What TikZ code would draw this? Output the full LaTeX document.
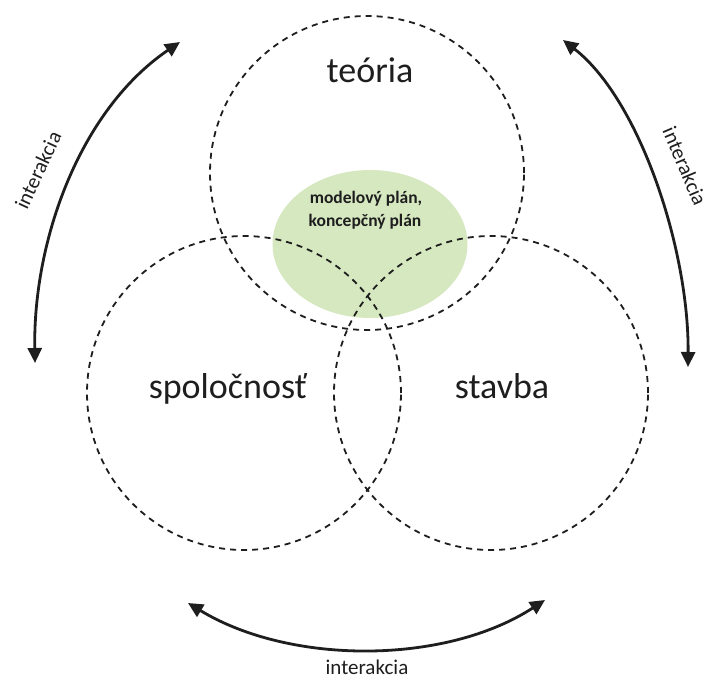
\documentclass[tikz,border=0pt]{standalone}
\usepackage{fontspec}
\setmainfont{Carlito}
\usetikzlibrary{arrows.meta,shapes.geometric}
\definecolor{leafgreen}{RGB}{214,232,192}
\definecolor{ink}{RGB}{30,30,30}
\tikzset{
  ring/.style={circle, draw=ink, line width=1.8pt, dash pattern=on 6pt off 5pt, minimum size=314pt, inner sep=0pt},
  bigword/.style={font=\fontsize{36}{40}\selectfont, text=ink, anchor=base, inner sep=0pt},
  smallword/.style={font=\fontsize{21}{24}\selectfont, text=ink, inner sep=0pt},
  greenword/.style={font=\bfseries\fontsize{17.5}{20}\selectfont, text=ink, anchor=base, inner sep=0pt},
  swing/.style={line width=2.8pt, draw=ink, {Triangle[length=15pt,width=14pt]}-{Triangle[length=15pt,width=14pt]}}
}
\begin{document}
\begin{tikzpicture}[x=1pt,y=-1pt]
\useasboundingbox (0,0) rectangle (709,682);
% green ellipse
\node[ellipse, fill=leafgreen, minimum width=195pt, minimum height=148pt, inner sep=0pt] (core) at (370,244) {};
% circles
\node[ring] (top) at (367,173) {};
\node[ring] (left) at (244,393) {};
\node[ring] (right) at (491,393) {};
% labels
\node[bigword] (teoria) at (370,83) {teória};
\node[bigword] (spol) at (228,398) {spoločnosť};
\node[bigword] (stavba) at (502,398) {stavba};
\node[greenword] (l1) at (366,203) {modelový plán,};
\node[greenword] (l2) at (365,226) {koncepčný plán};
% arrows
\coordinate (la) at (35,363);
\coordinate (lb) at (180,42);
\coordinate (ra) at (563,40);
\coordinate (rb) at (688,367);
\coordinate (ba) at (188,603);
\coordinate (bb) at (545,600);
\draw[swing] (la) .. controls (33,240) and (80,110) .. (lb);
\draw[swing] (ra) .. controls (640,100) and (689,250) .. (rb);
\draw[swing] (ba) .. controls (290,665) and (445,665) .. (bb);
\node[smallword, rotate=65] (il) at (38,170) {interakcia};
\node[smallword, rotate=-67] (ir) at (685,166) {interakcia};
\node[smallword] (ib) at (367,667) {interakcia};
\end{tikzpicture}
\end{document}
